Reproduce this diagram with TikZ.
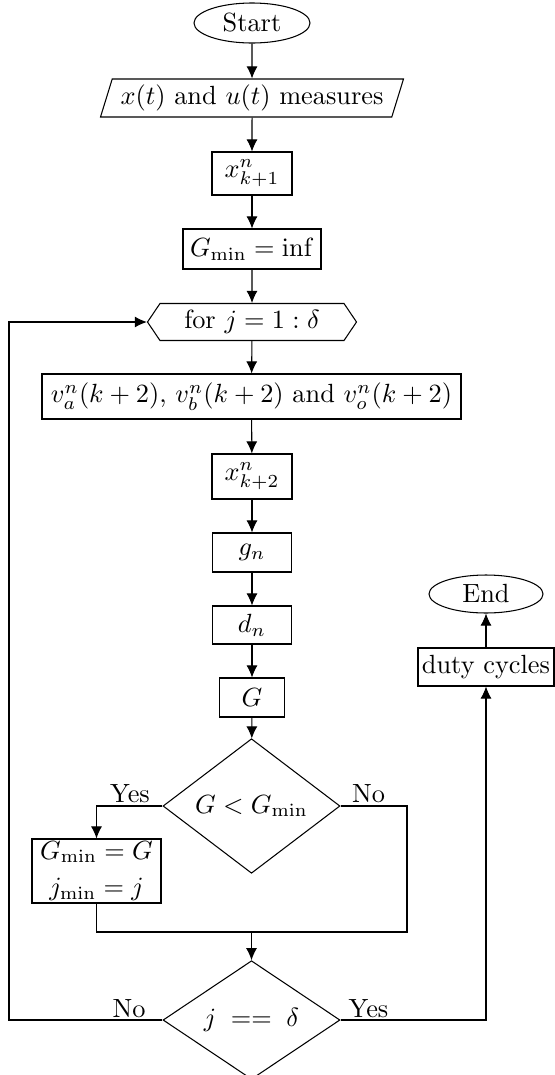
\documentclass[tikz,border=0pt]{standalone}
\usetikzlibrary{shapes.geometric,shapes.symbols,arrows.meta}
\begin{document}
\begin{tikzpicture}[x=0.38pt,y=-0.38pt,>={Latex[length=4.6pt,width=4.2pt]},
  sz/.style 2 args={minimum width={#1*0.38pt},minimum height={#2*0.38pt}},
  base/.style={draw,inner sep=0pt,align=center},
  boxx/.style={base,rectangle},
  term/.style={base,ellipse},
  io/.style={base,trapezium,trapezium left angle=66,trapezium right angle=114,trapezium stretches body},
  loop/.style={base,signal,signal to=west and east,signal pointer angle=112},
  dec/.style={base,diamond},
  lbl/.style={anchor=base,inner sep=0pt},
  flow/.style={->}]
\useasboundingbox (0,0) rectangle (555,1075);

\node[term,sz={116}{40}] (start) at (252,23) {Start};
\node[io,sz={303}{38}] (meas) at (252,98) {$x(t)$ and $u(t)$ measures};
\node[boxx,sz={80}{43}] (xk1) at (252,173.5) {$x^n_{k+1}$};
\node[boxx,sz={138}{40}] (ginf) at (252,249) {$G_{\min}=\inf$};
\node[loop,sz={209}{37}] (hex) at (252,322) {for $j=1:\delta$};
\node[boxx,sz={419}{45}] (vbox) at (251.5,396.5) {$v^n_a(k+2)$, $v^n_b(k+2)$ and $v^n_o(k+2)$};
\node[boxx,sz={80}{45}] (xk2) at (252,476.5) {$x^n_{k+2}$};
\node[boxx,sz={79}{39}] (gn) at (252,552.5) {$g_n$};
\node[boxx,sz={79}{38}] (dn) at (252,625) {$d_n$};
\node[boxx,sz={65}{39}] (G) at (252,697.5) {$G$};
\node[dec,sz={177}{108}] (dia1) at (251.5,806) {$G<G_{\min}$};
\node[boxx,sz={129}{64}] (gmg) at (96.5,871) {$G_{\min}=G$\\[2pt]$j_{\min}=j$};
\node[dec,sz={177}{108}] (dia2) at (251.5,1020) {$j\;==\;\delta$};
\node[boxx,sz={136}{38}] (duty) at (486,667) {duty cycles};
\node[term,sz={114}{38}] (End) at (486,594) {End};

\node[lbl] (yes1) at (130,802) {Yes};
\node[lbl] (no1) at (368.5,802) {No};
\node[lbl] (no2) at (129,1017) {No};
\node[lbl] (yes2) at (368.5,1017) {Yes};

\coordinate (mg) at (251.5,932);
\coordinate (rc) at (407,932);
\coordinate (fl) at (9,1020);

\draw[flow] (start) -- (meas);
\draw[flow] (meas) -- (xk1);
\draw[flow] (xk1) -- (ginf);
\draw[flow] (ginf) -- (hex);
\draw[flow] (hex) -- (vbox);
\draw[flow] (vbox) -- (xk2);
\draw[flow] (xk2) -- (gn);
\draw[flow] (gn) -- (dn);
\draw[flow] (dn) -- (G);
\draw[flow] (G) -- (dia1);
\draw[flow] (dia1.west) -| (gmg.north);
\draw (dia1.east) -| (rc) -- (mg);
\draw (gmg.south) |- (mg);
\draw[flow] (mg) -- (dia2.north);
\draw[flow] (dia2.west) -- (fl) |- (hex.west);
\draw[flow] (dia2.east) -| (duty.south);
\draw[flow] (duty.north) -- (End.south);
\end{tikzpicture}
\end{document}
